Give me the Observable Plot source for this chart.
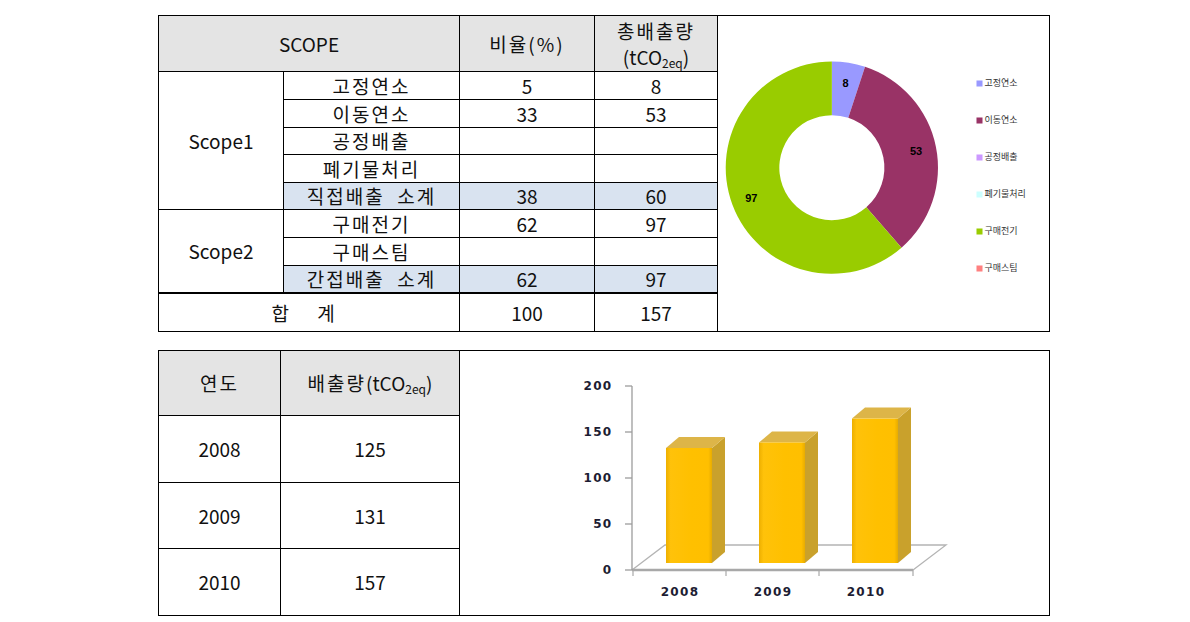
<!DOCTYPE html>
<html>
<head>
<meta charset="utf-8">
<script src="https://cdn.jsdelivr.net/npm/d3@7"></script>
<script src="https://cdn.jsdelivr.net/npm/@observablehq/plot@0.6"></script>
<style>
  html, body { margin: 0; padding: 0; background: #fff; }
  body { position: relative; width: 1190px; height: 622px; overflow: hidden;
         font-family: "Noto Sans CJK KR", "Noto Sans", sans-serif; color: #111; }
  .cell { position: absolute; box-sizing: border-box; border: 1px solid #000;
          display: flex; align-items: center; justify-content: center; text-align: center;
          font-size: 19px; line-height: 1.15; background: #fff; }
  .ko { letter-spacing: 2px; }
  .hdr { background: #E4E4E4; }
  .sub { background: #D9E3F0; }
  .two { line-height: 26px; }
  sub { font-size: 12px; vertical-align: -3px; line-height: 0; letter-spacing: 0; }
  .chart { position: absolute; }
</style>
</head>
<body>
<script>
// ---------------- data ----------------
const scopeGroups = ["Scope1", "Scope2"];
const sources = ["고정연소", "이동연소", "공정배출", "폐기물처리", "직접배출 소계", "구매전기", "구매스팀", "간접배출 소계"];
const sourceGroup = ["Scope1", "Scope1", "Scope1", "Scope1", "Scope1", "Scope2", "Scope2", "Scope2"];
const subtotalRows = ["직접배출 소계", "간접배출 소계"];
const ratioPct = [5, 33, null, null, 38, 62, null, 62];
const emissionT = [8, 53, null, null, 60, 97, null, 97];
const totalLabel = "합 계";
const totalRatio = 100;
const totalEmission = 157;

const donutCategories = ["고정연소", "이동연소", "공정배출", "폐기물처리", "구매전기", "구매스팀"];
const donutValues = [8, 53, 0, 0, 97, 0];
const donutColors = ["#9999FF", "#993366", "#CC99FF", "#CCFFFF", "#99CC00", "#FF8080"];

const years = ["2008", "2009", "2010"];
const yearEmissions = [125, 131, 157];
const yTicks = [0, 50, 100, 150, 200];

// ---------------- table helpers ----------------
function cell(x0, y0, x1, y1, html, cls = "") {
  const d = document.createElement("div");
  d.className = "cell " + cls;
  d.style.left = x0 + "px";
  d.style.top = y0 + "px";
  d.style.width = (x1 - x0 + 1) + "px";
  d.style.height = (y1 - y0 + 1) + "px";
  d.innerHTML = html;
  document.body.appendChild(d);
  return d;
}
const fmt = v => (v == null ? "" : String(v));
const unitHTML = "(tCO<sub>2eq</sub>)";

// ---------------- top table ----------------
const cx = [158, 283, 459, 594, 717, 1049];
const ry = [15, 71, 99, 127, 154, 182, 209, 237, 265, 292, 331];
cell(cx[0], ry[0], cx[2], ry[1], "SCOPE", "hdr");
cell(cx[2], ry[0], cx[3], ry[1], "<span class='ko'>비율(%)</span>", "hdr");
cell(cx[3], ry[0], cx[4], ry[1], "<span><span class='ko'>총배출량</span><br>" + unitHTML + "</span>", "hdr two");
scopeGroups.forEach(g => {
  const rows = sourceGroup.map((s, i) => s === g ? i : -1).filter(i => i >= 0);
  cell(cx[0], ry[1 + rows[0]], cx[1], ry[2 + rows[rows.length - 1]], g);
});
sources.forEach((s, i) => {
  const cls = subtotalRows.includes(s) ? "sub" : "";
  cell(cx[1], ry[1 + i], cx[2], ry[2 + i], "<span class='ko'>" + s.replace(" ", "&nbsp; ") + "</span>", cls);
  cell(cx[2], ry[1 + i], cx[3], ry[2 + i], fmt(ratioPct[i]), cls);
  cell(cx[3], ry[1 + i], cx[4], ry[2 + i], fmt(emissionT[i]), cls);
});
const t1 = cell(cx[0], ry[9], cx[2], ry[10], "<span style='letter-spacing:12px'>" + totalLabel + "</span>");
const t2 = cell(cx[2], ry[9], cx[3], ry[10], fmt(totalRatio));
const t3 = cell(cx[3], ry[9], cx[4], ry[10], fmt(totalEmission));
[t1, t2, t3].forEach(c => c.style.borderTopWidth = "2px");
cell(cx[4], ry[0], cx[5], ry[10], "");

// ---------------- bottom table ----------------
const bx = [158, 280, 459, 1049];
const by = [350, 415, 482, 548, 615];
cell(bx[0], by[0], bx[1], by[1], "<span class='ko'>연도</span>", "hdr");
cell(bx[1], by[0], bx[2], by[1], "<span><span class='ko'>배출량</span>" + unitHTML + "</span>", "hdr");
years.forEach((y, i) => {
  cell(bx[0], by[1 + i], bx[1], by[2 + i], y);
  cell(bx[1], by[1 + i], bx[2], by[2 + i], fmt(yearEmissions[i]));
});
cell(bx[2], by[0], bx[3], by[4], "");

// ---------------- donut chart ----------------
const donutData = donutCategories.map((c, i) => ({category: c, value: donutValues[i]}));

function donutMark(index, scales, values, dims) {
  const color = scales.color || d3.scaleOrdinal(donutCategories, donutColors);
  const ccx = dims.width * 0.345, ccy = dims.height * 0.483;
  const R = dims.height * 0.338, r = R * 0.495;
  const pie = d3.pie().sort(null).value(d => d.value);
  const arc = d3.arc().innerRadius(r).outerRadius(R);
  const lab = d3.arc().innerRadius(R * 0.81).outerRadius(R * 0.81);
  const arcs = pie(donutData).filter(a => a.data.value > 0);
  const g = d3.create("svg:g").attr("transform", `translate(${ccx},${ccy})`);
  g.selectAll("path").data(arcs).join("path")
    .attr("d", arc).attr("fill", a => color(a.data.category));
  g.selectAll("text").data(arcs).join("text")
    .attr("transform", a => `translate(${lab.centroid(a)})`)
    .attr("text-anchor", "middle").attr("dy", "0.35em")
    .attr("font-family", "Liberation Sans, Arial, sans-serif")
    .attr("font-weight", "bold").attr("font-size", 11).attr("fill", "#000")
    .text(a => a.data.value);
  return g.node();
}

const donutPlot = Plot.plot({
  width: 330, height: 314, margin: 0,
  style: {background: "transparent", overflow: "visible", fontFamily: "Noto Sans CJK KR, sans-serif"},
  y: {type: "point", domain: donutCategories, range: [66, 252], padding: 0, axis: null},
  color: {domain: donutCategories, range: donutColors},
  marks: [
    donutMark,
    Plot.dot(donutCategories, {y: d => d, fill: d => d, symbol: "square", r: 3.4, frameAnchor: "left", dx: 261}),
    Plot.text(donutCategories, {y: d => d, text: d => d, frameAnchor: "left", dx: 266, textAnchor: "start", fontSize: 9, fill: "#333"})
  ]
});
donutPlot.classList.add("chart");
donutPlot.style.left = "718px";
donutPlot.style.top = "16px";
document.body.appendChild(donutPlot);

// ---------------- 3D bar chart ----------------
const barData = years.map((y, i) => ({year: y, value: yearEmissions[i]}));
const insetL = 33, insetR = 14, lift = 7;       // front face placement within band
const depthX = 13, depthY = 11;                 // bar depth
const floorDX = 33, floorDY = 25;               // floor depth

function floorMark(index, scales, values, dims) {
  const x = scales.x, y = scales.y;
  const x0 = dims.marginLeft, x1 = dims.width - dims.marginRight;
  const y0 = y(0);
  const g = d3.create("svg:g").attr("fill", "none");
  const defs = g.append("defs");
  const lg = defs.append("linearGradient").attr("id", "barFront").attr("x1", 0).attr("x2", 1).attr("y1", 0).attr("y2", 0);
  [["0%", "#EDAF00"], ["10%", "#FFC20A"], ["55%", "#FFC000"], ["92%", "#FFBF00"], ["100%", "#E8AC00"]]
    .forEach(([o, c]) => lg.append("stop").attr("offset", o).attr("stop-color", c));
  g.append("path")
    .attr("d", `M${x0},${y0}L${x0 + floorDX},${y0 - floorDY}L${x1 + floorDX},${y0 - floorDY}L${x1},${y0}`)
    .attr("stroke", "#B4B4B4").attr("stroke-width", 1.3);
  g.append("path").attr("d", `M${x0},${y0}H${x1}`).attr("stroke", "#A8A8A8").attr("stroke-width", 2.5);
  const bounds = x.domain().map(d => x(d)).concat([x1]);
  bounds.forEach(b => g.append("path").attr("d", `M${b},${y0}v6`).attr("stroke", "#A8A8A8").attr("stroke-width", 1.2));
  g.append("path").attr("d", `M${x0},${y(200)}V${y0}`).attr("stroke", "#9C9C9C").attr("stroke-width", 1.3);
  yTicks.forEach(t => g.append("path").attr("d", `M${x0},${y(t)}h-7`).attr("stroke", "#9C9C9C").attr("stroke-width", 1.3));
  return g.node();
}

function barDepthMark(index, scales, values, dims) {
  const x = scales.x, y = scales.y;
  const bw = x.bandwidth ? x.bandwidth() : (dims.width - dims.marginLeft - dims.marginRight) / years.length;
  const g = d3.create("svg:g");
  barData.forEach(d => {
    const fx0 = x(d.year) + insetL, fx1 = x(d.year) + bw - insetR;
    const yt = y(d.value) - lift, yb = y(0) - lift;
    g.append("path")
      .attr("d", `M${fx1},${yt}L${fx1 + depthX},${yt - depthY}L${fx1 + depthX},${yb - depthY}L${fx1},${yb}Z`)
      .attr("fill", "#C9A12C");
    g.append("path")
      .attr("d", `M${fx0},${yt}L${fx1},${yt}L${fx1 + depthX},${yt - depthY}L${fx0 + depthX},${yt - depthY}Z`)
      .attr("fill", "#DDB548");
  });
  return g.node();
}

const barPlot = Plot.plot({
  width: 588, height: 263,
  marginLeft: 172, marginRight: 135, marginTop: 35, marginBottom: 44,
  style: {background: "transparent", overflow: "visible", fontFamily: "DejaVu Sans, sans-serif",
          fontSize: "12px", fontWeight: "bold", color: "#1d1d33", letterSpacing: "1.3px"},
  x: {type: "band", domain: years, padding: 0, label: null},
  y: {domain: [0, 200], label: null},
  marks: [
    floorMark,
    barDepthMark,
    Plot.barY(barData, {x: "year", y: "value", fill: "url(#barFront)", insetLeft: insetL, insetRight: insetR, dy: -lift}),
    Plot.axisY({ticks: yTicks, tickSize: 0, tickPadding: 20, fontSize: 12, label: null}),
    Plot.axisX({tickSize: 0, tickPadding: 17, fontSize: 12, label: null})
  ]
});
barPlot.classList.add("chart");
barPlot.style.left = "460px";
barPlot.style.top = "351px";
document.body.appendChild(barPlot);
</script>
</body>
</html>
